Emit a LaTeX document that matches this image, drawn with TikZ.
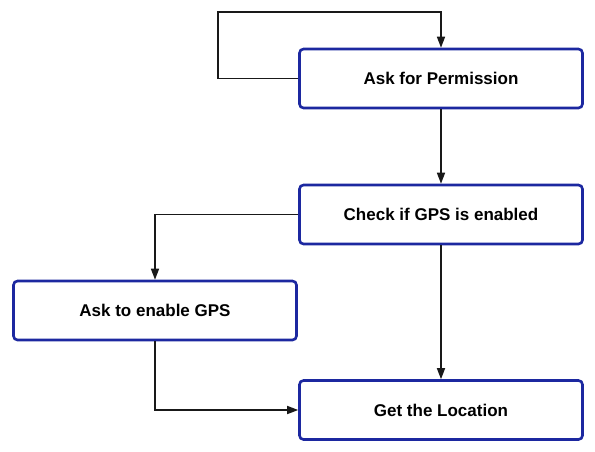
\documentclass[tikz,border=0pt]{standalone}
\usepackage{fontspec}
\setmainfont{Liberation Sans}
\usepackage{tikz}
\usepackage{xcolor}
\usetikzlibrary{arrows.meta}
\definecolor{box-blue}{RGB}{28,40,160}
\tikzset{
    step-box/.style = {draw=box-blue, fill=white, line width=2.6pt, rectangle, rounded corners=4pt, minimum width=283pt, minimum height=59pt, font=\fontsize{17}{20}\selectfont\bfseries},
    flow-arrow/.style = {draw=black!90, line width=1.6pt, -{Triangle[length=11pt,width=8pt]}},
}

\begin{document}
\begin{tikzpicture}[x=1pt, y=1pt]
\useasboundingbox (0,0) rectangle (595,-451);
\node [step-box] (permission) at (441,-78.5) {Ask for Permission};
\node [step-box] (check) at (441,-214.5) {Check if GPS is enabled};
\node [step-box] (enable-gps) at (155,-310.5) {Ask to enable GPS};
\node [step-box] (location) at (441,-410) {Get the Location};
\coordinate (loop-top) at (218,-12);
\draw [flow-arrow] (permission.west) -| (loop-top) -| (permission.north);
\draw [flow-arrow] (permission.south) -- (check.north);
\draw [flow-arrow] (check.west) -| (enable-gps.north);
\draw [flow-arrow] (check.south) -- (location.north);
\draw [flow-arrow] (enable-gps.south) |- (location.west);
\end{tikzpicture}
\end{document}
